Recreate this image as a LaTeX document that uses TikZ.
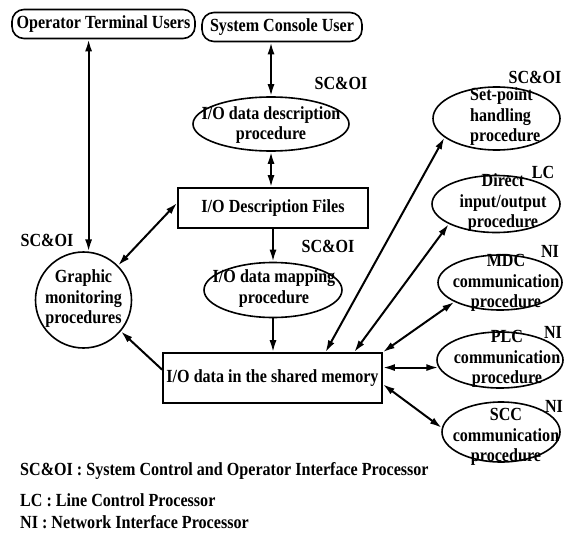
\documentclass[tikz,border=0pt]{standalone}
\usepackage{fontspec}
\setmainfont{Liberation Serif}[FakeStretch=0.87]
\usetikzlibrary{shapes.geometric,arrows.meta,calc}
\begin{document}
\begin{tikzpicture}[x=1pt,y=-1pt,
  every node/.style={font=\bfseries\fontsize{18.5}{20.5}\selectfont, inner sep=0pt},
  term/.style={draw, line width=1.6pt, rounded corners=12pt, minimum height=29pt},
  proc/.style={draw, line width=1.6pt, ellipse},
  ptext/.style={align=center},
  store/.style={draw, line width=1.6pt, rectangle},
  circ/.style={draw, line width=1.6pt, circle, minimum size=96pt},
  tag/.style={},
  legend/.style={anchor=west},
  link/.style={line width=2pt, arrows={Latex[length=12pt,width=7pt]-Latex[length=12pt,width=7pt]}},
  flow/.style={line width=2pt, -{Latex[length=12pt,width=7pt]}}
]
\useasboundingbox (0,0) rectangle (575,535);

\node[term, minimum width=183pt] (otu) at (103.5,24) {Operator Terminal Users};
\node[term, minimum width=160pt] (scu) at (282,27) {System Console User};

\node[proc, minimum width=156pt, minimum height=54pt] (iod) at (271,124) {};
\node[ptext] (iodt) at (271,125) {I/O data description\\procedure};
\node[store, minimum width=190pt, minimum height=40pt] (iof) at (273,208) {I/O Description Files};
\node[proc, minimum width=138pt, minimum height=55pt] (iom) at (273,290) {};
\node[ptext] (iomt) at (274,288.5) {I/O data mapping\\procedure};
\node[store, minimum width=219pt, minimum height=50pt] (sm) at (272.5,378) {I/O data in the shared memory};
\node[circ] (gm) at (83.5,300) {};
\node[ptext] (gmt) at (83.5,299) {Graphic\\monitoring\\procedures};

\node[proc, minimum width=127pt, minimum height=63pt] (sp) at (496.5,118.5) {};
\node[ptext, align=left, anchor=west] (spt) at (470,117) {Set-point\\handling\\procedure};
\node[proc, minimum width=128pt, minimum height=57pt] (dio) at (496,204) {};
\node[ptext] (diot) at (503,203) {Direct\\input/output\\procedure};
\node[proc, minimum width=124pt, minimum height=55pt] (mdc) at (500,282.5) {};
\node[ptext] (mdct) at (506,283) {MDC\\communication\\procedure};
\node[proc, minimum width=126pt, minimum height=56pt] (plc) at (500,360) {};
\node[ptext] (plct) at (507,359) {PLC\\communication\\procedure};
\node[proc, minimum width=118pt, minimum height=60pt] (scc) at (501,432) {};
\node[ptext] (scct) at (506,437) {SCC\\communication\\procedure};

\node[tag] (t1) at (341,83) {SC\&OI};
\node[tag] (t2) at (328,246) {SC\&OI};
\node[tag] (t3) at (47,240) {SC\&OI};
\node[tag] (t4) at (535,77) {SC\&OI};
\node[tag] (t5) at (543,172) {LC};
\node[tag] (t6) at (550,251) {NI};
\node[tag] (t7) at (553,332) {NI};
\node[tag] (t8) at (554,406) {NI};

\node[legend] (l1) at (20,471) {SC\&OI : System Control and Operator Interface Processor};
\node[legend] (l2) at (20,500) {LC : Line Control Processor};
\node[legend] (l3) at (20,522) {NI : Network Interface Processor};

\draw[link] (gm.84) -- (gm.84 |- otu.south);
\draw[link] (iod.north) -- (iod.north |- scu.south);
\draw[link] (iod.south) -- (iod.south |- iof.north);
\draw[flow] (iof.south) -- (iof.south |- iom.north);
\draw[flow] (iom.south) -- (iom.south |- sm.north);
\draw[link] ($(iof.north west)!0.375!(iof.south west)$) -- (gm.45);
\draw[flow] ($(sm.north west)!0.34!(sm.south west)$) -- (gm.-40);
\draw[link] ($(sm.north west)!0.74!(sm.north east)$) -- (sp.200);
\draw[link] ($(sm.north west)!0.87!(sm.north east)$) -- (dio.203);
\draw[link] (sm.north east) -- (mdc.203);
\draw[link] (plc.187 -| sm.east) -- (plc.187);
\draw[link] ($(sm.north east)!0.62!(sm.south east)$) -- (scc.176);
\end{tikzpicture}
\end{document}
